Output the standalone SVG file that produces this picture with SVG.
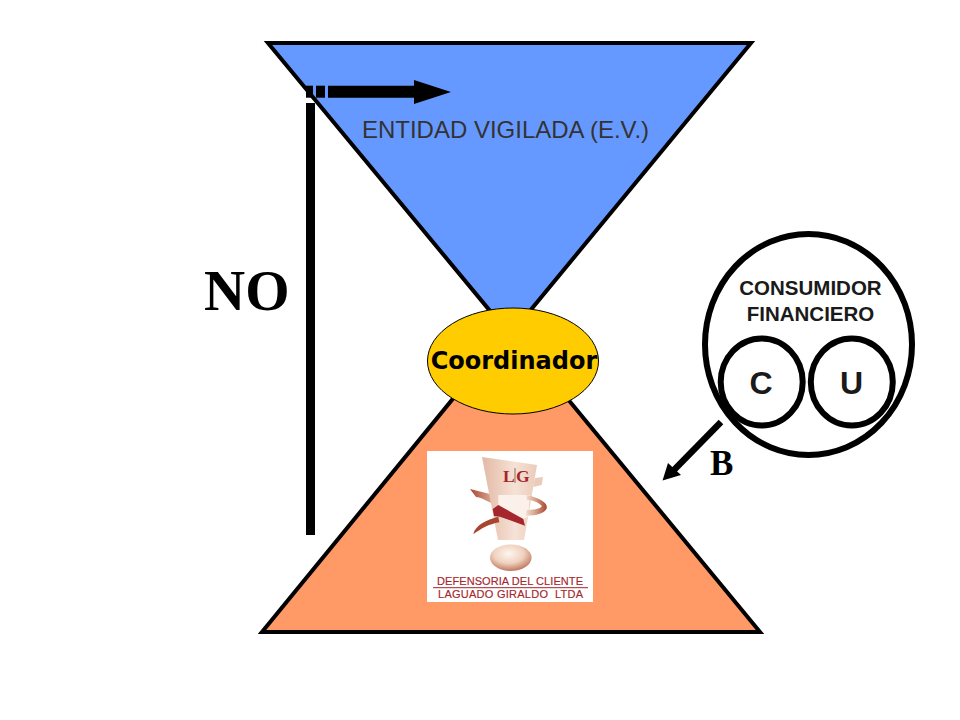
<svg xmlns="http://www.w3.org/2000/svg" width="960" height="720" viewBox="0 0 960 720">
<defs>
<style>
.tri{stroke:#000;stroke-width:4;stroke-linejoin:miter}
.sans{font-family:"Liberation Sans",Arial,sans-serif}
.serif{font-family:"Liberation Serif","Times New Roman",serif;font-weight:bold;fill:#000}
.ring{fill:#fff;stroke:#000;stroke-width:6}
.logo{font-family:"Liberation Sans",Arial,sans-serif;fill:#a5262c;font-size:11px;stroke:#a5262c;stroke-width:0.15px}
.lg{font-family:"Liberation Serif",serif;font-weight:bold;font-size:17.500px;fill:#a5262c}
</style>
<radialGradient id="egg" cx="0.45" cy="0.35" r="0.72"><stop offset="0" stop-color="#fdf6f0"/><stop offset="0.5" stop-color="#f0d2bf"/><stop offset="1" stop-color="#b5644a"/></radialGradient>
<linearGradient id="ped" x1="0" y1="0" x2="1" y2="0"><stop offset="0" stop-color="#e3b9a5"/><stop offset="0.6" stop-color="#f6e2d6"/><stop offset="1" stop-color="#eacbb9"/></linearGradient>
<linearGradient id="rib" x1="0" y1="0" x2="1" y2="0"><stop offset="0" stop-color="#f3ddcf"/><stop offset="0.5" stop-color="#d29a80"/><stop offset="1" stop-color="#a8452f"/></linearGradient>
<linearGradient id="ribl" x1="0" y1="0" x2="1" y2="0"><stop offset="0" stop-color="#a8452f"/><stop offset="1" stop-color="#e8c4b0"/></linearGradient>
</defs>
<rect width="960" height="720" fill="#fff"/>
<g id="entidad">
<polygon class="tri" points="268,43 751,43 510,335" fill="#6699ff"/>
<text class="sans" x="505.500" y="138" font-size="24" text-anchor="middle" fill="#333">ENTIDAD VIGILADA (E.V.)</text>
</g>
<g id="defensoria">
<polygon class="tri" points="510,329 760,632 262,632" fill="#ff9966"/>
<g id="logo">
<rect x="427" y="451" width="166" height="151" fill="#fff"/>
<path d="M470,489 L498,496 L498,507 C490,502 480,497 476,497Z" fill="url(#ribl)"/>
<polygon points="482,457 537,465 524,540 498,540" fill="url(#ped)"/>
<polygon points="535,478 543,477 541.700,485 533,487" fill="#eacbb9"/>
<path d="M473.300,534.300 C475,525 486.700,520 498.300,516.700 L499.300,522.300 C488.300,524.300 481.700,528.300 473.300,534.300Z" fill="#a8452f"/>
<path d="M498.300,495 L530,495 L528,516.700 L523.300,519 L498.300,505Z" fill="#fbf1ea"/>
<path d="M526.700,495 C540,498 548,503 546.700,508.300 C545,513.300 536.700,515.700 526,515.700 L526.700,510 C535,510 541.700,508.300 541.700,506 C538,501.700 531.700,500 526.700,500Z" fill="url(#rib)"/>
<polygon points="492.700,509 498.300,505 523.300,519 525,525.700 500,516.700 494,516" fill="#a5262c"/>
<ellipse cx="510.800" cy="557.700" rx="20.800" ry="13.300" fill="url(#egg)"/>
<text class="logo" x="437" y="585" textLength="146" lengthAdjust="spacing">DEFENSORIA DEL CLIENTE</text>
<line x1="433" y1="587.700" x2="588" y2="587.700" stroke="#a5262c" stroke-width="1"/>
<text class="logo" x="438" y="597.700" textLength="145" lengthAdjust="spacing" xml:space="preserve">LAGUADO GIRALDO  LTDA</text>
<text class="lg" x="503" y="482">L</text>
<line x1="515" y1="468" x2="515" y2="483" stroke="#8a6a5a" stroke-width="1"/>
<text class="lg" x="516" y="482">G</text>
</g>
</g>
<g id="coordinador">
<ellipse cx="513" cy="361" rx="85.500" ry="53" fill="#ffcc00" stroke="#000" stroke-width="1"/>
<text x="514" y="369" font-family="DejaVu Sans,sans-serif" font-weight="bold" font-size="24" text-anchor="middle" fill="#000">Coordinador</text>
</g>
<g id="consumidor">
<ellipse cx="808.500" cy="344.500" rx="103.500" ry="110.500" class="ring"/>
<text class="sans" font-weight="bold" font-size="20.500" text-anchor="middle" fill="#1a1a1a"><tspan x="810.500" y="295">CONSUMIDOR</tspan><tspan x="810.500" y="320.500">FINANCIERO</tspan></text>
</g>
<g id="c">
<ellipse cx="761.700" cy="382" rx="41" ry="43.500" class="ring"/>
<text class="sans" x="761" y="394" font-weight="bold" font-size="32" text-anchor="middle" fill="#1a1a1a">C</text>
</g>
<g id="u">
<ellipse cx="851.800" cy="382" rx="41" ry="43.500" class="ring"/>
<text class="sans" x="851.500" y="394" font-weight="bold" font-size="32" text-anchor="middle" fill="#1a1a1a">U</text>
</g>
<g id="connectors" fill="#000" stroke="#000">
<line x1="310.500" y1="103" x2="310.500" y2="535" stroke-width="9"/>
<rect x="306" y="85.700" width="7" height="12" stroke="none"/>
<rect x="316" y="85.700" width="9" height="12" stroke="none"/>
<polygon stroke="none" points="328,85.700 414,85.700 414,80 451,92 414,104 414,97.700 328,97.700"/>
<line x1="721" y1="422" x2="672" y2="472" stroke-width="6.500"/>
<polygon stroke="none" points="662.500,480.500 668,463 681,475"/>
</g>
<g id="labels">
<text class="serif" x="204" y="310" font-size="57">NO</text>
<text class="serif" x="710" y="475" font-size="35">B</text>
</g>
</svg>
